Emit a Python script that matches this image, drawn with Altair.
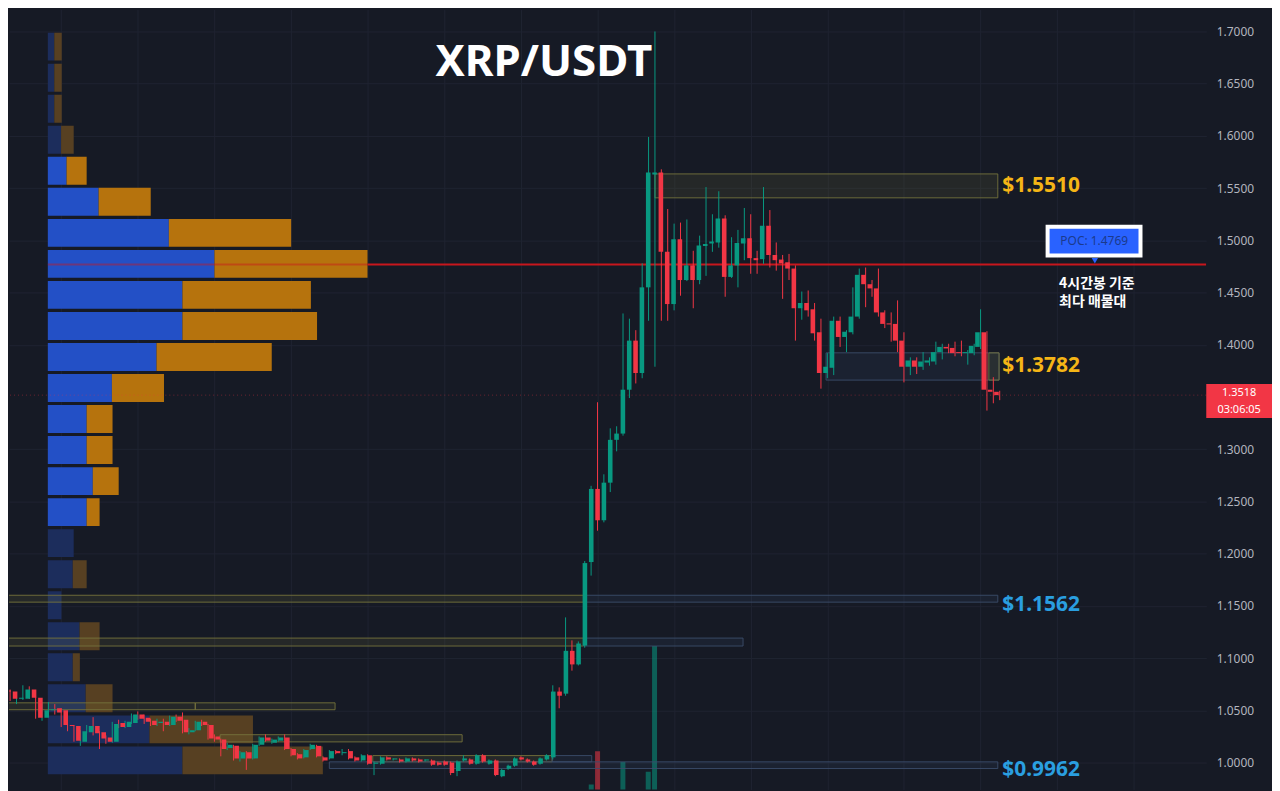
import altair as alt
import pandas as pd

# ---------------- candle data (4h candles, index 0..156) ----------------
opens = [1.069,1.068,1.061,1.061,1.070,1.062,1.043,1.050,1.052,1.050,
         1.036,1.035,1.020,1.029,1.035,1.029,1.024,1.020,1.038,1.034,
         1.038,1.046,1.043,1.040,1.038,1.039,1.036,1.044,1.041,1.029,
         1.031,1.039,1.036,1.025,1.022,1.014,1.016,1.004,1.010,1.004,
         1.017,1.024,1.019,1.021,1.024,1.013,1.008,1.005,1.013,1.016,
         1.005,1.004,1.011,1.009,1.011,1.005,1.002,1.007,0.999,0.999,
         1.005,1.003,1.003,1.001,1.004,1.003,1.002,1.002,1.000,1.001,
         1.000,0.992,1.002,1.003,0.999,1.007,0.999,1.002,0.987,0.994,
         0.997,1.005,1.003,1.001,0.999,1.003,1.005,1.068,1.066,1.107,
         1.094,1.112,1.192,1.262,1.232,1.268,1.309,1.315,1.357,1.404,
         1.373,1.455,1.563,1.565,1.489,1.439,1.501,1.462,1.476,1.462,
         1.4945,1.497,1.498,1.521,1.465,1.476,1.497,1.502,1.483,1.482,
         1.514,1.486,1.4816,1.479,1.473,1.435,1.440,1.434,1.412,1.373,
         1.378,1.423,1.4075,1.412,1.427,1.467,1.458,1.454,1.431,1.4205,
         1.420,1.404,1.379,1.385,1.379,1.383,1.384,1.393,1.398,1.397,
         1.393,1.392,1.392,1.398,1.412,1.357,1.355]
highs = [1.073,1.070,1.066,1.074,1.073,1.063,1.058,1.058,1.056,1.052,
         1.037,1.036,1.031,1.036,1.0435,1.030,1.026,1.039,1.041,1.040,
         1.047,1.049,1.046,1.042,1.042,1.042,1.045,1.046,1.048,1.033,
         1.040,1.041,1.037,1.027,1.023,1.019,1.017,1.011,1.011,1.018,
         1.025,1.027,1.023,1.025,1.027,1.014,1.009,1.013,1.018,1.017,
         1.006,1.012,1.012,1.013,1.013,1.006,1.008,1.008,1.001,1.006,
         1.006,1.004,1.004,1.005,1.005,1.004,1.003,1.003,1.001,1.002,
         1.001,1.002,1.007,1.004,1.008,1.008,1.003,1.003,0.994,0.998,
         1.005,1.006,1.004,1.002,1.005,1.008,1.074,1.072,1.139,1.117,
         1.116,1.193,1.265,1.345,1.276,1.320,1.322,1.430,1.425,1.414,
         1.478,1.599,1.700,1.568,1.530,1.516,1.517,1.520,1.490,1.5045,
         1.551,1.525,1.547,1.524,1.503,1.510,1.531,1.525,1.490,1.551,
         1.529,1.498,1.486,1.487,1.476,1.451,1.452,1.440,1.425,1.392,
         1.427,1.427,1.414,1.455,1.473,1.474,1.462,1.473,1.433,1.431,
         1.4425,1.412,1.388,1.388,1.393,1.388,1.403,1.401,1.401,1.403,
         1.404,1.395,1.401,1.434,1.413,1.369,1.356]
lows = [1.065,1.059,1.056,1.060,1.061,1.042,1.040,1.045,1.046,1.034,
        1.030,1.020,1.016,1.028,1.026,1.013,1.018,1.019,1.033,1.033,
        1.037,1.041,1.037,1.035,1.035,1.030,1.035,1.039,1.028,1.027,
        1.030,1.035,1.022,1.020,1.006,1.012,1.002,1.001,0.993,1.003,
        1.016,1.020,1.018,1.020,1.012,1.006,1.003,1.004,1.012,1.005,
        1.001,1.003,1.008,1.007,1.003,1.001,1.001,0.998,0.988,0.998,
        1.002,1.002,1.000,1.000,1.001,1.000,1.001,0.997,0.997,0.997,
        0.988,0.987,1.001,0.998,0.998,1.000,0.998,0.987,0.986,0.993,
        0.996,1.002,1.000,0.997,0.998,1.002,1.003,1.052,1.064,1.088,
        1.093,1.110,1.179,1.222,1.230,1.259,1.298,1.313,1.349,1.363,
        1.368,1.423,1.379,1.423,1.423,1.433,1.447,1.461,1.435,1.458,
        1.466,1.489,1.493,1.446,1.464,1.455,1.481,1.468,1.468,1.4775,
        1.474,1.471,1.444,1.462,1.404,1.424,1.427,1.404,1.358,1.368,
        1.371,1.398,1.393,1.410,1.425,1.436,1.446,1.427,1.416,1.403,
        1.393,1.364,1.371,1.372,1.376,1.380,1.381,1.386,1.392,1.389,
        1.389,1.381,1.390,1.396,1.337,1.344,1.347]
closes = [1.068,1.061,1.062,1.070,1.062,1.043,1.050,1.051,1.048,1.036,
          1.035,1.021,1.030,1.035,1.028,1.023,1.020,1.037,1.034,1.039,
          1.046,1.042,1.039,1.036,1.039,1.036,1.044,1.040,1.029,1.031,
          1.039,1.036,1.023,1.022,1.013,1.017,1.004,1.010,1.004,1.017,
          1.024,1.021,1.022,1.024,1.013,1.007,1.004,1.012,1.017,1.006,
          1.002,1.011,1.009,1.010,1.004,1.002,1.007,0.999,1.000,1.005,
          1.003,1.004,1.001,1.004,1.002,1.001,1.003,0.998,0.998,0.998,
          0.990,1.001,1.004,0.999,1.007,1.001,1.002,0.988,0.993,0.997,
          1.004,1.003,1.001,0.998,1.004,1.007,1.068,1.064,1.107,1.094,
          1.114,1.191,1.262,1.232,1.268,1.309,1.315,1.357,1.404,1.373,
          1.455,1.565,1.565,1.489,1.439,1.501,1.462,1.476,1.462,1.495,
          1.4966,1.499,1.521,1.465,1.476,1.4975,1.502,1.483,1.481,1.514,
          1.486,1.481,1.478,1.473,1.435,1.440,1.433,1.411,1.373,1.379,
          1.423,1.4075,1.4125,1.427,1.467,1.458,1.454,1.431,1.420,1.4195,
          1.404,1.379,1.385,1.379,1.384,1.385,1.393,1.398,1.3965,1.392,
          1.392,1.393,1.399,1.412,1.357,1.355,1.3518]

# volume bars peeking in at the bottom
vol_index = [92, 93, 97, 101, 102]
vol_value = [319, 447, 406, 368, 852]

# ---------------- volume profile (rows top -> bottom) ----------------
vp_buy  = [2.0, 2.0, 2.0, 4.1, 5.8, 15.7, 37.4, 51.5, 41.6, 41.6, 33.6, 19.8,
           12.0, 12.0, 13.9, 12.0, 8.0, 7.7, 4.2, 9.8, 7.7, 11.7, 31.4, 41.6]
vp_sell = [2.3, 2.3, 2.3, 3.9, 6.2, 16.1, 37.8, 47.3, 39.7, 41.6, 35.6, 16.1,
           8.0, 8.0, 8.0, 4.0, 0.0, 4.3, 0.0, 6.2, 2.2, 8.3, 32.0, 43.4]
vp_top_price = 1.6988
vp_row_step = 0.02971
value_area_rows = (4, 15)
poc_price = 1.4769
last_price = 1.3518

# ---------------- zones ----------------
zone_k0   = [102.0, 128.8, 154.3, -1.0, 90.8, -1.0, 90.8, -1.0, 30.0, 33.9, 57.8, 85.9, 51.0]
zone_k1   = [155.7, 155.9, 155.9, 90.8, 155.7, 90.8, 115.8, 30.0, 51.9, 71.8, 85.9, 92.1, 155.7]
zone_lo   = [1.5407, 1.3662, 1.3662, 1.1536, 1.1536, 1.1116, 1.1116, 1.0506, 1.0506, 1.0198, 1.0007, 1.0007, 0.9943]
zone_hi   = [1.5636, 1.3923, 1.3923, 1.1602, 1.1602, 1.1192, 1.1192, 1.0572, 1.0572, 1.0267, 1.0067, 1.0067, 1.0007]
zone_kind = ["y", "b", "y", "y", "b", "y", "b", "y", "y", "y", "y", "b", "b"]

level_text  = ["$1.5510", "$1.3782", "$1.1562", "$0.9962"]
level_price = [1.5522, 1.3796, 1.1507, 0.9933]
level_kind  = ["gold", "gold", "blue", "blue"]

# the 1.3500 label sits under the last-price tag in the reference, so it is left out
axis_prices = [1.0, 1.05, 1.1, 1.15, 1.2, 1.25, 1.3, 1.4, 1.45, 1.5, 1.55, 1.6, 1.65, 1.7]
grid_k = [9 + 12 * i for i in range(15)]

# ---------------- scales ----------------
W, H = 1202, 783
xs = alt.Scale(domain=[0.827, 188.35], nice=False, zero=False)
ys = alt.Scale(domain=[0.97427, 1.72098], nice=False, zero=False)
GREEN, RED = "#089981", "#f23645"

cd = pd.DataFrame({"k": list(range(len(opens))), "o": opens, "h": highs, "l": lows, "c": closes})
cd["col"] = [GREEN if c >= o else RED for o, c in zip(opens, closes)]

vd = pd.DataFrame({"k": vol_index, "v": vol_value, "v0": 0})
vd["col"] = [cd.loc[k, "col"] for k in vol_index]

rows = []
n = len(vp_buy)
for i in range(n):
    top = vp_top_price - i * vp_row_step
    bot = top - vp_row_step + 0.003
    bright = value_area_rows[0] <= i <= value_area_rows[1]
    rows.append({"x0": 0, "x1": vp_buy[i], "t": top, "b": bot,
                 "col": "#2350c6" if bright else "#1c2d5c"})
    if vp_sell[i] > 0:
        rows.append({"x0": vp_buy[i], "x1": vp_buy[i] + vp_sell[i], "t": top, "b": bot,
                     "col": "#b6730d" if bright else "#574022"})
pd_rows = pd.DataFrame(rows)

zd = pd.DataFrame({"k0": zone_k0, "k1": zone_k1, "lo": zone_lo, "hi": zone_hi, "kind": zone_kind})
zd["fill"] = zd["kind"].map({"y": "#8a8a40", "b": "#3e5a86"})
zd["stroke"] = zd["kind"].map({"y": "#75733c", "b": "#3b4d6b"})

ld = pd.DataFrame({"t": level_text, "p": level_price, "kind": level_kind})
ld["col"] = ld["kind"].map({"gold": "#f5b516", "blue": "#2a9fe0"})
ld["k"] = 156.4

NOX = dict(scale=xs, axis=None)
NOY = dict(scale=ys, axis=None)

# axes / grid carrier
axes_layer = alt.Chart(pd.DataFrame({"k": [50], "p": [1.3]})).mark_point(opacity=0).encode(
    x=alt.X("k:Q", scale=xs, title=None,
            axis=alt.Axis(values=grid_k, labels=False, ticks=False, domain=False, grid=True,
                          gridColor="#1f2331", gridWidth=1)),
    y=alt.Y("p:Q", scale=ys, title=None,
            axis=alt.Axis(orient="right", values=axis_prices, format=".4f", labelColor="#b2b5be",
                          labelFontSize=12, labelFont="Noto Sans", labelPadding=10, ticks=False,
                          domain=False, grid=True, gridColor="#1f2331", gridWidth=1)),
)

vol_layer = alt.Chart(vd).mark_bar(size=5, clip=True, opacity=0.55).encode(
    x=alt.X("k:Q", **NOX),
    y=alt.Y("v:Q", scale=alt.Scale(domain=[300, 3300], nice=False, zero=False), axis=None),
    y2="v0:Q",
    color=alt.Color("col:N", scale=None),
)

profile_layer = alt.Chart(pd_rows).mark_rect(clip=True).encode(
    x=alt.X("x0:Q", scale=alt.Scale(domain=[-12, 358], nice=False, zero=False), axis=None),
    x2="x1:Q",
    y=alt.Y("t:Q", **NOY), y2="b:Q",
    color=alt.Color("col:N", scale=None),
)

zone_layer = alt.Chart(zd).mark_rect(clip=True, fillOpacity=0.13, strokeWidth=1, strokeOpacity=0.9).encode(
    x=alt.X("k0:Q", **NOX), x2="k1:Q",
    y=alt.Y("lo:Q", **NOY), y2="hi:Q",
    fill=alt.Fill("fill:N", scale=None),
    stroke=alt.Stroke("stroke:N", scale=None),
)

poc_df = pd.DataFrame({"k0": [6.91, 57.0], "k1": [57.0, 188.35], "op": [0.45, 1.0], "p": [poc_price, poc_price]})
poc_layer = alt.Chart(poc_df).mark_rule(color="#c8161d", strokeWidth=2, clip=True).encode(
    x=alt.X("k0:Q", **NOX), x2="k1:Q",
    y=alt.Y("p:Q", **NOY),
    opacity=alt.Opacity("op:Q", scale=None),
)

last_layer = alt.Chart(pd.DataFrame({"p": [last_price]})).mark_rule(
    color=RED, strokeDash=[1, 3], opacity=0.4, strokeWidth=1).encode(y=alt.Y("p:Q", **NOY))

wick_layer = alt.Chart(cd).mark_rule(strokeWidth=1, clip=True).encode(
    x=alt.X("k:Q", **NOX),
    y=alt.Y("l:Q", **NOY), y2="h:Q",
    color=alt.Color("col:N", scale=None),
)
body_layer = alt.Chart(cd).mark_bar(size=4.6, clip=True).encode(
    x=alt.X("k:Q", **NOX),
    y=alt.Y("o:Q", **NOY), y2="c:Q",
    color=alt.Color("col:N", scale=None),
)

level_layer = alt.Chart(ld).mark_text(align="left", baseline="middle", fontSize=21,
                                      fontWeight="bold", font="Noto Sans").encode(
    x=alt.X("k:Q", **NOX), y=alt.Y("p:Q", **NOY),
    text="t:N", color=alt.Color("col:N", scale=None),
)

title_layer = alt.Chart(pd.DataFrame({"k": [84.6], "p": [1.6695], "t": ["XRP/USDT"]})).mark_text(
    align="center", baseline="middle", fontSize=44, fontWeight="bold", font="Noto Sans", color="#ffffff"
).encode(x=alt.X("k:Q", **NOX), y=alt.Y("p:Q", **NOY), text="t:N")

pocbox_layer = alt.Chart(pd.DataFrame({"k0": [163.5], "k1": [178.05], "lo": [1.4854], "hi": [1.5131]})).mark_rect(
    fill="#2962ff", stroke="#ffffff", strokeWidth=4).encode(
    x=alt.X("k0:Q", **NOX), x2="k1:Q", y=alt.Y("lo:Q", **NOY), y2="hi:Q")
pocarrow_layer = alt.Chart(pd.DataFrame({"k": [170.9], "p": [1.4805]})).mark_point(
    shape="triangle-down", size=40, filled=True, color="#2962ff", opacity=1).encode(
    x=alt.X("k:Q", **NOX), y=alt.Y("p:Q", **NOY))
poctext_layer = alt.Chart(pd.DataFrame({"k": [170.8], "p": [1.4995], "t": ["POC: 1.4769"]})).mark_text(
    align="center", baseline="middle", fontSize=12, font="Noto Sans", color="#1b3a8c").encode(
    x=alt.X("k:Q", **NOX), y=alt.Y("p:Q", **NOY), text="t:N")
note_layer = alt.Chart(pd.DataFrame({"k": [165.3, 165.3], "p": [1.4578, 1.4406],
                                     "t": ["4시간봉 기준", "최다 매물대"]})).mark_text(
    align="left", baseline="middle", fontSize=14, font="Noto Sans CJK KR", fontWeight="bold",
    color="#ffffff").encode(x=alt.X("k:Q", **NOX), y=alt.Y("p:Q", **NOY), text="t:N")

tag_layer = alt.Chart(pd.DataFrame({"lo": [1.3300], "hi": [1.3624]})).mark_rect(color=RED).encode(
    x=alt.value(W), x2=alt.value(W + 66), y=alt.Y("lo:Q", **NOY), y2="hi:Q")
tagtext_layer = alt.Chart(pd.DataFrame({"p": [1.3540, 1.3372], "t": ["1.3518", "03:06:05"]})).mark_text(
    align="center", baseline="middle", fontSize=11, font="Noto Sans", color="#ffffff").encode(
    x=alt.value(W + 33), y=alt.Y("p:Q", **NOY), text="t:N")

chart = alt.layer(
    axes_layer, vol_layer, profile_layer, zone_layer, poc_layer, last_layer,
    wick_layer, body_layer, level_layer, title_layer,
    pocbox_layer, pocarrow_layer, poctext_layer, note_layer, tag_layer, tagtext_layer,
).resolve_scale(x="independent", y="independent").properties(
    width=W, height=H, padding=0, background="#161a25"
).configure_view(strokeWidth=0)

chart.save("out.html", embed_options={"renderer": "svg", "actions": False})
